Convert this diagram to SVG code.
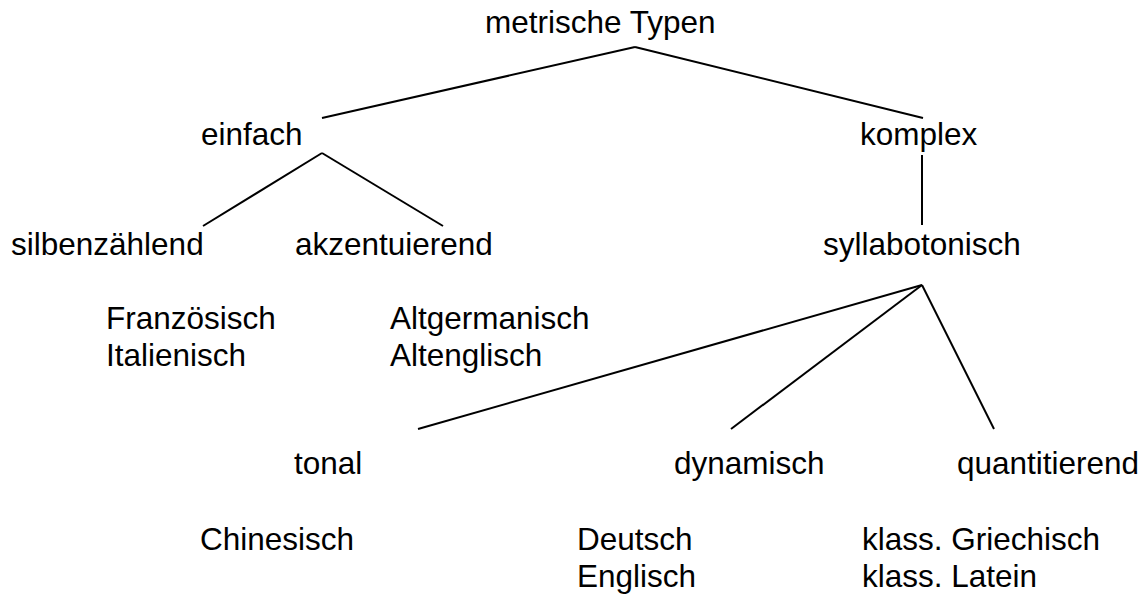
<svg xmlns="http://www.w3.org/2000/svg" width="1147" height="595" viewBox="0 0 1147 595">
<style>
text{font-family:"Liberation Sans",Arial,sans-serif;font-size:31.5px;fill:#000}
.c line{stroke:#000;stroke-width:2}
</style>
<rect width="1147" height="595" fill="#fff"/>
<g class="c" id="connectors">
<line x1="322" y1="118" x2="635" y2="47"/>
<line x1="635" y1="47" x2="923" y2="118"/>
<line x1="322" y1="153" x2="203" y2="226"/>
<line x1="322" y1="153" x2="443" y2="226"/>
<line x1="922" y1="155" x2="922" y2="225"/>
<line x1="922" y1="285" x2="418" y2="429"/>
<line x1="922" y1="285" x2="731" y2="429"/>
<line x1="922" y1="285" x2="994" y2="429"/>
</g>
<g id="n-root"><text x="485" y="33">metrische Typen</text></g>
<g id="n-einfach"><text x="201" y="145">einfach</text></g>
<g id="n-komplex"><text x="860" y="145">komplex</text></g>
<g id="n-silben"><text x="11" y="255">silbenzählend</text></g>
<g id="n-akzent"><text x="295" y="255">akzentuierend</text></g>
<g id="n-syllabo"><text x="823" y="255">syllabotonisch</text></g>
<g id="n-silben-ex"><text x="106" y="329">Französisch</text><text x="106" y="366">Italienisch</text></g>
<g id="n-akzent-ex"><text x="390" y="329">Altgermanisch</text><text x="390" y="366">Altenglisch</text></g>
<g id="n-tonal"><text x="294" y="474">tonal</text></g>
<g id="n-dyn"><text x="674" y="474">dynamisch</text></g>
<g id="n-quant"><text x="957" y="474">quantitierend</text></g>
<g id="n-tonal-ex"><text x="200" y="550">Chinesisch</text></g>
<g id="n-dyn-ex"><text x="577" y="550">Deutsch</text><text x="577" y="587">Englisch</text></g>
<g id="n-quant-ex"><text x="862" y="550">klass. Griechisch</text><text x="862" y="587">klass. Latein</text></g>
</svg>
